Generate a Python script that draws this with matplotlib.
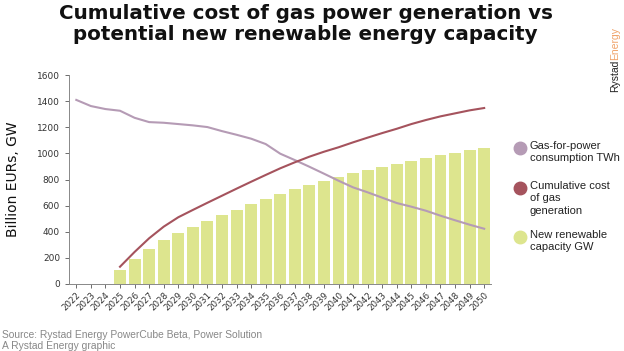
import numpy as np
import matplotlib.pyplot as plt

years = [str(y) for y in range(2022, 2051)]

# gas-for-power consumption TWh (2022-2050)
gas_twh = [1410, 1363, 1340, 1327, 1273, 1240, 1235, 1225, 1215, 1202,
           1171, 1143, 1113, 1072, 998, 949, 898, 845, 791, 740,
           702, 661, 620, 592, 561, 523, 488, 454, 423]

# cumulative cost of gas generation, billion EUR (2025-2050)
cost_years = years[3:]
cum_cost = [132, 245, 350, 439, 511, 567, 622, 676, 730, 783,
            835, 886, 932, 975, 1013, 1047, 1085, 1121, 1156, 1189,
            1225, 1256, 1284, 1307, 1330, 1348]

# new renewable capacity GW (2025-2050)
ren_years = years[3:]
new_ren = [107, 194, 268, 335, 390, 434, 482, 526, 569, 610,
           648, 689, 725, 756, 789, 819, 848, 875, 898, 921,
           944, 967, 988, 1003, 1024, 1039]

legend_labels = ['Gas-for-power\nconsumption TWh', 'Cumulative cost\nof gas\ngeneration',
                 'New renewable\ncapacity GW']

c_bar = '#dde58e'
c_gas = '#b59bb5'
c_cost = '#a5535d'
grey = '#555555'
W, H = 624, 351

fig = plt.figure(figsize=(6.24, 3.51), dpi=100)
ax = fig.add_axes([0.1106, 0.191, 0.677, 0.595])

x = np.arange(len(years))
xr = np.array([years.index(y) for y in ren_years])
xc = np.array([years.index(y) for y in cost_years])

ax.bar(xr, new_ren, width=0.82, color=c_bar, zorder=1)
ax.plot(x, gas_twh, color=c_gas, lw=1.5, zorder=3)
ax.plot(xc, cum_cost, color=c_cost, lw=1.5, zorder=3)

ax.set_xlim(-0.5, len(years) - 0.5)
ax.set_ylim(0, 1600)
ax.set_yticks(range(0, 1601, 200))
ax.set_xticks(x)
ax.set_xticklabels(years, rotation=45, ha='right', rotation_mode='anchor')
ax.tick_params(axis='y', labelsize=6.5, colors=grey, length=3, width=0.6)
ax.tick_params(axis='x', labelsize=6.2, colors=grey, length=3, width=0.6, pad=2)
for lab in ax.get_xticklabels() + ax.get_yticklabels():
    lab.set_color('#333333')
for s in ['top', 'right']:
    ax.spines[s].set_visible(False)
for s in ['left', 'bottom']:
    ax.spines[s].set_color('#888888')
    ax.spines[s].set_linewidth(0.7)

ax.set_ylabel('Billion EURs, GW', fontsize=10, color='#111111', labelpad=12)

# legend drawn by hand: marker level with the first text line
leg_y = [148, 188, 237]
for c, lab, yy in zip((c_gas, c_cost, c_bar), legend_labels, leg_y):
    fig.lines.append(plt.Line2D([520 / W], [1 - yy / H], marker='o', ms=9, ls='',
                                color=c, transform=fig.transFigure))
    fig.text(530 / W, 1 - (yy - 7) / H, lab, ha='left', va='top', fontsize=8,
             linespacing=1.3, color='#222222', family='Liberation Sans')

fig.text(0.49, 0.99, 'Cumulative cost of gas power generation vs\npotential new renewable energy capacity',
         ha='center', va='top', fontsize=14.3, fontweight='bold', linespacing=1.15,
         color='#111111', family='DejaVu Sans')

fig.text(0.003, 0.046, 'Source: Rystad Energy PowerCube Beta, Power Solution',
         fontsize=7.4, color='#888888', va='center', family='Liberation Sans')
fig.text(0.003, 0.013, 'A Rystad Energy graphic', fontsize=7.4, color='#888888',
         va='center', family='Liberation Sans')

t1 = fig.text(0.985, 0.738, 'Rystad', rotation=90, fontsize=7.5, color='#222222',
              ha='center', va='bottom', family='Liberation Sans')
bb = t1.get_window_extent(fig.canvas.get_renderer())
fig.text(0.985, bb.y1 / fig.bbox.height, 'Energy', rotation=90, fontsize=7.5,
         color='#f0a36a', ha='center', va='bottom', family='Liberation Sans')

fig.savefig('out.png', dpi=100)
